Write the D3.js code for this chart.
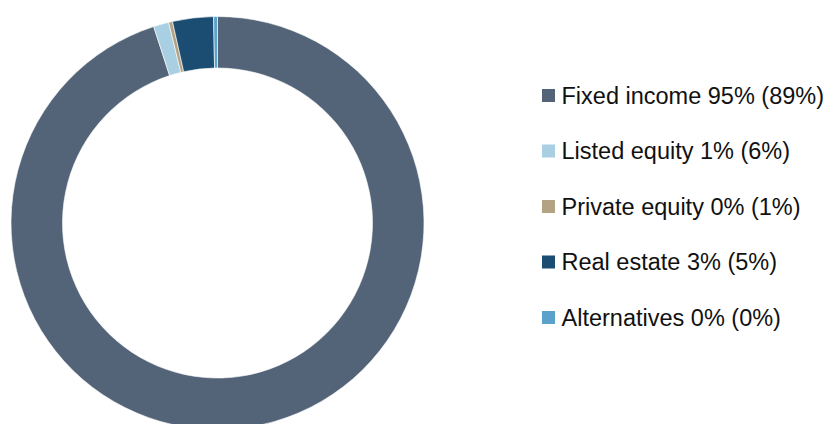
<!DOCTYPE html>
<html><head><meta charset="utf-8">
<script src="https://cdn.jsdelivr.net/npm/d3@7"></script>
<style>html,body{margin:0;padding:0;background:#fff;}svg{display:block;}</style>
</head><body>
<svg id="chart" width="829" height="424"></svg>
<script>
const categories = ["Fixed income", "Listed equity", "Private equity", "Real estate", "Alternatives"];
const values = [95.0, 1.2, 0.3, 3.2, 0.3];
const legendLabels = ["Fixed income 95% (89%)", "Listed equity 1% (6%)", "Private equity 0% (1%)", "Real estate 3% (5%)", "Alternatives 0% (0%)"];
const colors = ["#536478", "#a9d0e2", "#b3a383", "#1b4d72", "#5aa2cc"];

const svg = d3.select("#chart");
const cx = 217.5, cy = 223, rOuter = 206.5, rInner = 155;

const pie = d3.pie().sort(null).value(d => d.value);
const data = pie(categories.map((c, i) => ({name: c, value: values[i]})));
const arc = d3.arc().innerRadius(rInner).outerRadius(rOuter);
const color = d3.scaleOrdinal().domain(categories).range(colors);

svg.append("g").attr("transform", `translate(${cx},${cy})`)
  .selectAll("path").data(data).join("path")
  .attr("d", arc)
  .attr("fill", d => color(d.data.name))
  .attr("stroke", "#fff").attr("stroke-width", 0.6);

const y = d3.scalePoint().domain(categories).range([95.5, 317.5]);
const lg = svg.append("g");
const items = lg.selectAll("g").data(categories).join("g")
  .attr("transform", d => `translate(542,${y(d)})`);
items.append("rect").attr("x", 0).attr("y", -6.5).attr("width", 13).attr("height", 13)
  .attr("fill", d => color(d));
items.append("text").attr("x", 19.5).attr("y", 0).attr("dy", "0.36em")
  .attr("font-family", "'Liberation Sans', Arial, sans-serif").attr("font-size", "23.5px")
  .attr("fill", "#111")
  .text((d, i) => legendLabels[i]);
</script>
</body></html>
